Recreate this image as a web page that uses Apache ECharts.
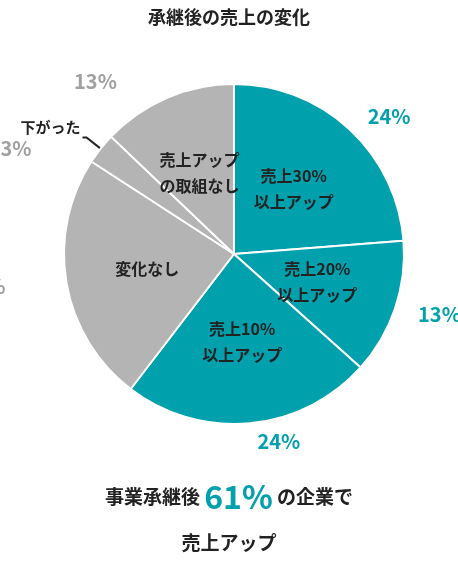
<!DOCTYPE html>
<html><head><meta charset="utf-8">
<script src="https://cdn.jsdelivr.net/npm/echarts@6/dist/echarts.min.js"></script>
<style>html,body{margin:0;padding:0;background:#fff}#c{width:458px;height:563px}</style>
</head><body><div id="c"></div>
<script>
var names = ['売上30%\n以上アップ', '売上20%\n以上アップ', '売上10%\n以上アップ', '変化なし', '', '売上アップ\nの取組なし'];
var outerNames = ['', '', '', '', '下がった', ''];
var values = [24, 13, 24, 24, 3, 13];
var teal = '#00a0ad', gray = '#b4b4b4';
var colors = [teal, teal, teal, gray, gray, gray];
var font = '"Noto Sans CJK JP", sans-serif';

var chart = echarts.init(document.getElementById('c'));
var inner = values.map(function (v, i) {
  return { value: v, name: names[i], itemStyle: { color: colors[i] } };
});
var outer = values.map(function (v, i) {
  var t = outerNames[i] ? '{n|' + outerNames[i] + '}\n' : '';
  return {
    value: v, name: t + '{p|' + v + '%}',
    label: { rich: { p: { color: colors[i] === teal ? teal : '#a0a0a0', fontSize: 20, fontWeight: 'bold', fontFamily: font, align: 'left' },
                     n: { color: '#222', fontSize: 15, fontWeight: 'bold', fontFamily: font, lineHeight: 22 } } },
    labelLine: { show: i === 4, length: 18, length2: 4, lineStyle: { color: '#222', width: 2 } }
  };
});
chart.setOption({
  animation: false,
  title: { text: '承継後の売上の変化', left: 'center', top: 3,
    textStyle: { fontFamily: font, fontSize: 18, fontWeight: 'bold', color: '#222' } },
  series: [{
    type: 'pie', center: [234, 254], radius: [0, 170], startAngle: 90, clockwise: true,
    data: inner,
    itemStyle: { borderColor: '#fff', borderWidth: 2 },
    label: { position: 'inside', color: '#222', fontFamily: font, fontSize: 16, fontWeight: 'bold', lineHeight: 26, formatter: '{b}' },
    labelLine: { show: false }
  }, {
    type: 'pie', center: [234, 254], radius: [0, 170], startAngle: 90, clockwise: true,
    data: outer, silent: true,
    itemStyle: { color: 'rgba(0,0,0,0)' },
    label: { position: 'outside', formatter: '{b}', distanceToLabelLine: 2, overflow: 'none', width: 80 },
    labelLine: { length: 6, length2: 0 }
  }],
  graphic: [{
    type: 'text', left: 'center', top: 481,
    style: { text: '{a|事業承継後 }{b|61%}{a| の企業で}', fontFamily: font,
      rich: { a: { fontSize: 19, fontWeight: 'bold', fill: '#222', fontFamily: font },
              b: { fontSize: 32, fontWeight: 'bold', fill: teal, fontFamily: font } } }
  }, {
    type: 'text', left: 'center', top: 533,
    style: { text: '売上アップ', fontFamily: font, fontSize: 19, fontWeight: 'bold', fill: '#222' }
  }]
});
</script></body></html>
